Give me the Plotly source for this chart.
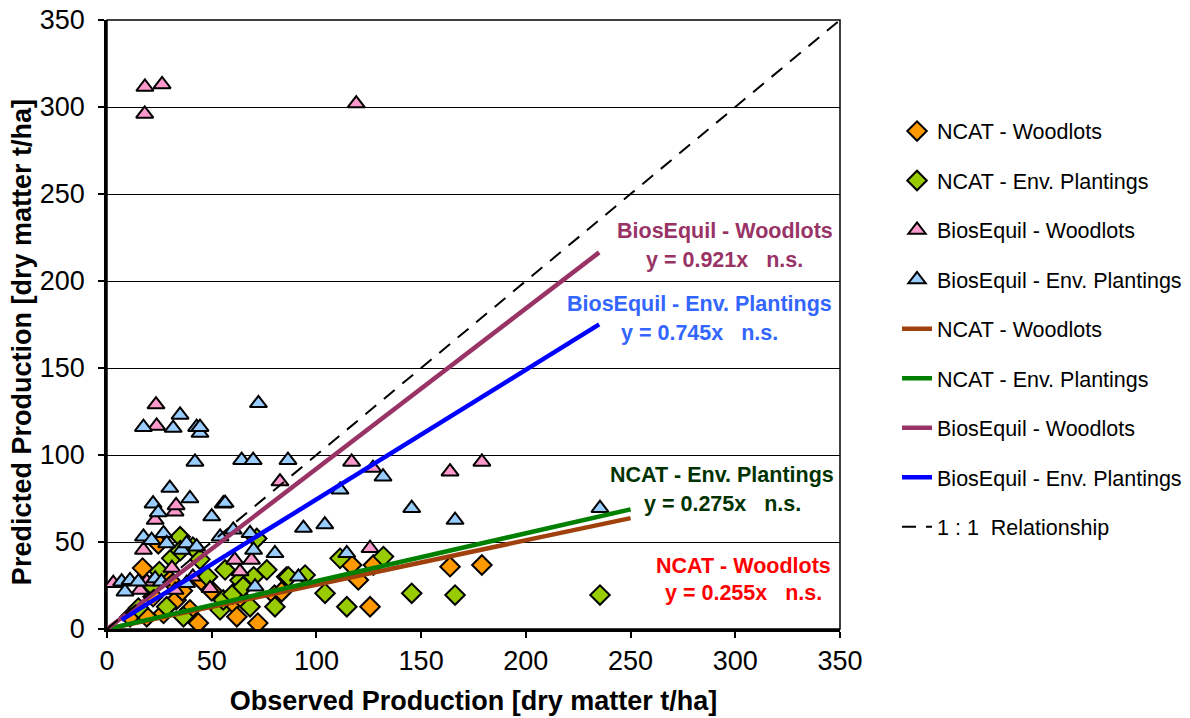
import plotly.graph_objects as go

# ---------------- data ----------------
ncat_wood_x = [11, 17, 19, 22, 24.5, 27, 30, 33, 36, 39.6, 43.6, 45, 50, 55, 60, 62, 65, 72, 80, 83.4,
               116.8, 120, 125.6, 127.2, 163.8, 179]
ncat_wood_y = [7, 35, 7, 18.6, 49, 9, 28, 16.7, 22, 11, 3.4, 28, 22, 12.8, 15, 7, 16.7, 3.4, 19.5, 21.4,
               36.8, 28.2, 12.8, 36.8, 35.8, 36.8]

ncat_env_x = [15, 21.3, 25, 28.5, 30.9, 34.9, 35, 36.5, 41, 44.4, 48, 54, 55.5, 56.4, 60, 63.5, 65, 68.3,
              70, 71.5, 76.3, 80.2, 85.8, 86.6, 94.6, 104.1, 111.3, 114.5, 132, 145.5, 166.2, 235.4]
ncat_env_y = [12, 25.3, 33, 12.8, 40.6, 53, 45, 7, 47, 40, 30, 11, 16.7, 34, 20, 28, 24.3, 12.8,
              30, 52, 34, 12.8, 30, 30, 31, 20.5, 40.6, 12.8, 41.6, 20.5, 19.5, 19.5]

bios_wood_x = [3, 15.8, 17.4, 18, 18.1, 19, 23, 23.4, 23.7, 26.3, 31, 32.5, 32.5, 33, 41, 49.2, 61, 63.5,
               69, 82.6, 116.8, 119, 125.6, 127, 163.8, 179]
bios_wood_y = [26.3, 22.4, 45.4, 296, 311.5, 27.2, 62.6, 129, 116.7, 313, 35, 67.4, 22.4, 71, 30, 23.4, 39.7, 33,
               39.7, 84.7, 96, 302, 46.4, 92.5, 90.4, 96]

bios_env_x = [7, 8.6, 11, 15, 17.4, 17.4, 21.3, 22, 23, 24.5, 26, 27, 28.5, 30, 31.6, 34.9, 35.7, 38, 38,
              39.6, 42, 42.8, 42.8, 44.4, 44.4, 50, 54, 55.5, 56.4, 60.3, 64.3, 68.3, 69.8, 70, 70.7, 72.3,
              80.2, 86.4, 91.4, 93.8, 104, 111.3, 114.5, 131.8, 145.5, 166.2, 235.4]
bios_env_y = [27.2, 21.4, 28, 27.2, 116, 53, 51, 72, 29, 67, 27.2, 55, 49.2, 81, 115.5, 123, 45.4, 49.2, 26.3,
              75, 96, 116, 47.3, 112.6, 116, 64.6, 53, 72, 72.4, 57, 97, 55, 97, 45.4, 24.3, 129.7,
              43.5, 97, 30, 58, 60, 80, 43.5, 87.5, 69.4, 62.6, 69.4]

# regression slopes and x ranges
slope_ncat_wood, range_ncat_wood = 0.255, [0, 250]
slope_ncat_env, range_ncat_env = 0.275, [0, 250]
slope_bios_wood, range_bios_wood = 0.921, [0, 235]
slope_bios_env, range_bios_env = 0.745, [7, 235]
one_to_one = [0, 350]

ticks = [0, 50, 100, 150, 200, 250, 300, 350]

FONT = "Liberation Sans, Arial, sans-serif"

fig = go.Figure()

def scatter(x, y, name, symbol, color, size):
    fig.add_trace(go.Scatter(
        x=x, y=y, mode="markers", name=name, legendgroup=name,
        marker=dict(symbol=symbol, color=color, size=size,
                    line=dict(color="black", width=2)),
    ))

scatter(ncat_wood_x, ncat_wood_y, "NCAT - Woodlots", "diamond", "#FF9900", 15)
scatter(ncat_env_x, ncat_env_y, "NCAT - Env. Plantings", "diamond", "#99CC00", 15)
scatter(bios_wood_x, bios_wood_y, "BiosEquil - Woodlots", "triangle-up", "#FF99CC", 15)
scatter(bios_env_x, bios_env_y, "BiosEquil - Env. Plantings", "triangle-up", "#99CCFF", 15)

def reg(slope, xr, name, color):
    fig.add_trace(go.Scatter(
        x=xr, y=[slope * v for v in xr], mode="lines", name=name,
        legendgroup=name + " line",
        line=dict(color=color, width=4.5),
    ))

reg(slope_ncat_wood, range_ncat_wood, "NCAT - Woodlots", "#A0410D")
reg(slope_ncat_env, range_ncat_env, "NCAT - Env. Plantings", "#008000")
reg(slope_bios_wood, range_bios_wood, "BiosEquil - Woodlots", "#993366")
reg(slope_bios_env, range_bios_env, "BiosEquil - Env. Plantings", "#0000FF")

fig.add_trace(go.Scatter(
    x=one_to_one, y=one_to_one, mode="lines", name="1 : 1\u00a0 Relationship",
    legendgroup="oneone", line=dict(color="black", width=2, dash="14px,10px"),
))

# annotations
ann = [
    ("BiosEquil - Woodlots", "y = 0.921x\u00a0\u00a0 n.s.", 295, 228.7, 212, "#993366"),
    ("BiosEquil - Env. Plantings", "y = 0.745x\u00a0\u00a0 n.s.", 283, 186.8, 170, "#3366FF"),
    ("NCAT - Env. Plantings", "y = 0.275x\u00a0\u00a0 n.s.", 293.7, 88.5, 71.8, "#003300"),
    ("NCAT - Woodlots", "y = 0.255x\u00a0\u00a0 n.s.", 304, 36.2, 20.7, "#FF0000"),
]
for t1, t2, x, y1, y2, c in ann:
    for t, yy in ((t1, y1), (t2, y2)):
        fig.add_annotation(x=x, y=yy, text="<b>" + t + "</b>", showarrow=False,
                           xanchor="center", yanchor="middle",
                           font=dict(family=FONT, size=21.5, color=c))

# y-axis title (placed as in the reference)
fig.add_annotation(xref="paper", yref="paper", x=-0.116, y=0.471,
                   text="<b>Predicted Production [dry matter t/ha]</b>", textangle=-90,
                   showarrow=False, xanchor="center", yanchor="middle",
                   font=dict(family=FONT, size=27, color="black"))

# plot border on right/top
fig.add_shape(type="rect", xref="paper", yref="paper", x0=0, y0=0, x1=1, y1=1,
              line=dict(color="black", width=1.5), layer="below")

fig.update_layout(
    width=1190, height=718,
    margin=dict(l=107, r=350, t=20, b=89, autoexpand=False),
    paper_bgcolor="white", plot_bgcolor="white",
    font=dict(family=FONT, size=18, color="black"),
    showlegend=True,
    legend=dict(xref="container", yref="container", x=0.7538, y=0.846,
                xanchor="left", yanchor="top", maxheight=700,
                traceorder="grouped", tracegroupgap=18.5,
                font=dict(family=FONT, size=21.5, color="black"),
                bgcolor="rgba(0,0,0,0)"),
    xaxis=dict(range=[0, 350], tickvals=ticks, ticks="outside", ticklen=6,
               tickcolor="black", tickwidth=1.5, automargin=False,
               showline=True, linecolor="black", linewidth=2.5,
               showgrid=False, zeroline=False,
               tickfont=dict(family=FONT, size=27),
               title=dict(text="<b>Observed Production [dry matter t/ha]</b>",
                          font=dict(family=FONT, size=27), standoff=16)),
    yaxis=dict(range=[0, 350], tickvals=ticks, ticks="outside", ticklen=6,
               tickcolor="black", tickwidth=1.5, ticklabelstandoff=8, automargin=False,
               showline=True, linecolor="black", linewidth=2.5,
               showgrid=True, gridcolor="black", gridwidth=1,
               zeroline=False,
               tickfont=dict(family=FONT, size=27)),
)

fig.write_html("out.html")
